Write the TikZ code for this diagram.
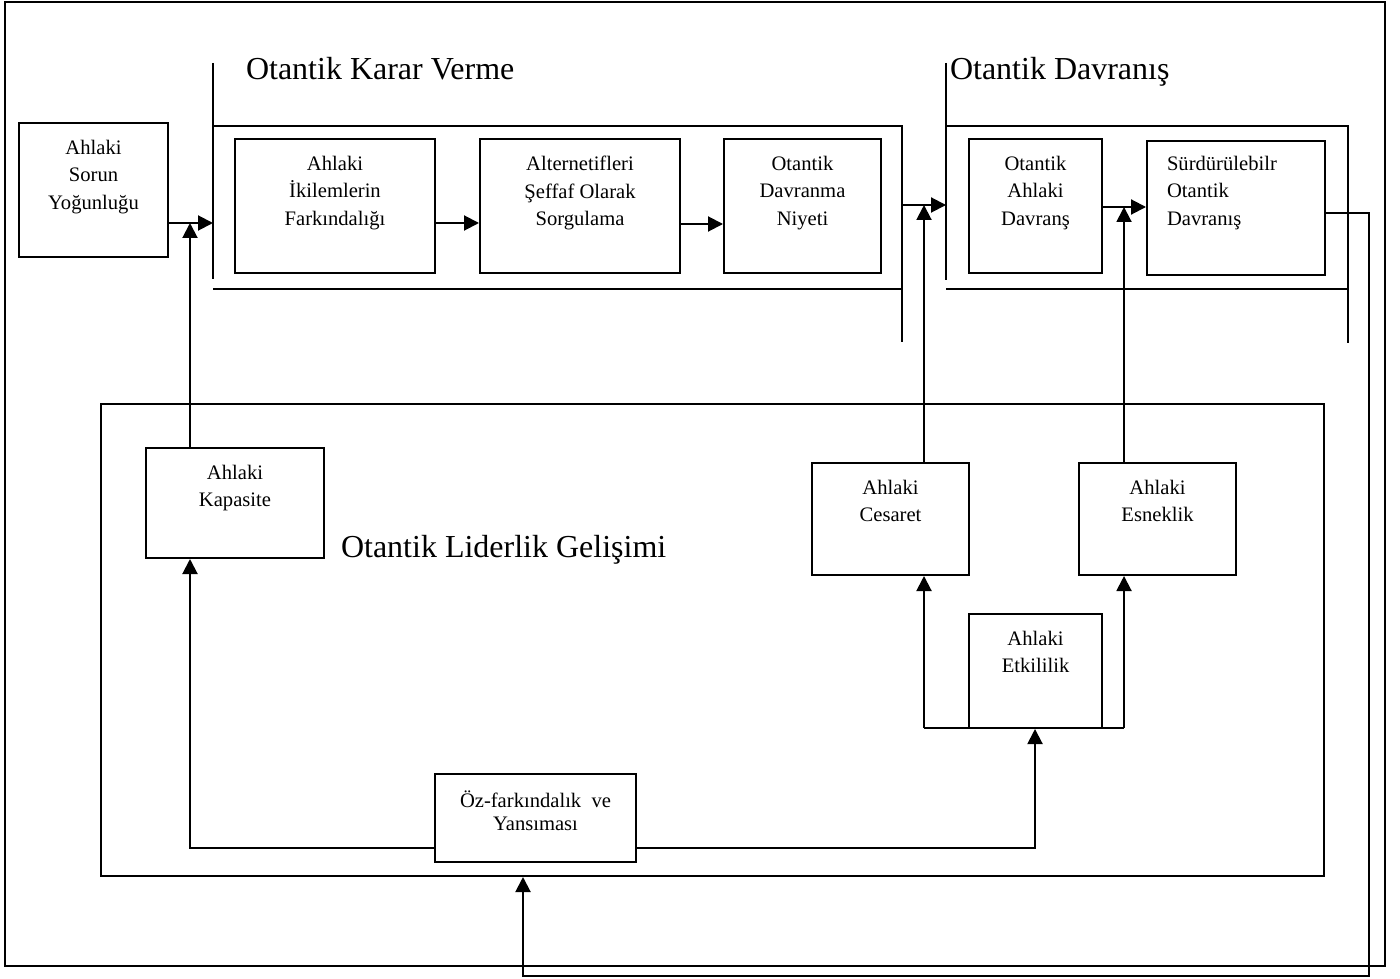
\documentclass[tikz,border=0pt]{standalone}
\usepackage{fontspec}
\setmainfont{Liberation Serif}
\usetikzlibrary{arrows.meta,fit}
\begin{document}
\begin{tikzpicture}[x=0.5pt,y=-0.5pt,line width=1pt,
  box/.style={draw,inner sep=0pt},
  btxt/.style={font=\fontsize{10.3}{13.75}\selectfont,align=center,inner sep=0pt,anchor=north},
  ttl/.style={font=\fontsize{16}{19}\selectfont,inner sep=0pt,anchor=base west},
  arr/.style={-{Triangle[length=7.5pt,width=7.5pt]}}]
\useasboundingbox (0,0) rectangle (1400,978);
% outer frame
\draw (5,2) rectangle (1385,966);
% titles
\node[ttl] (t1) at (245,80) {Otantik Karar Verme};
\node[ttl] (t2) at (949,80) {Otantik Davranış};
\node[ttl] (t3) at (340,557) {Otantik Liderlik Gelişimi};
% brackets
\draw (213,63) -- (213,279);
\draw (213,126) -- (902,126) -- (902,342);
\draw (213,289) -- (902,289);
\draw (946,63) -- (946,280);
\draw (946,126) -- (1348,126) -- (1348,343);
\draw (946,289) -- (1348,289);
% boxes
\node[box,fit={(19,123) (168,257)}] (sorun) {};
\node[box,fit={(235,139) (435,273)}] (ikilem) {};
\node[box,fit={(480,139) (680,273)}] (altern) {};
\node[box,fit={(724,139) (881,273)}] (niyet) {};
\node[box,fit={(969,139) (1102,273)}] (ahlakdav) {};
\node[box,fit={(1147,141) (1325,275)}] (surdur) {};
\node[box,fit={(101,404) (1324,876)}] (lider) {};
\node[box,fit={(146,448) (324,558)}] (kapasite) {};
\node[box,fit={(812,463) (969,575)}] (cesaret) {};
\node[box,fit={(1079,463) (1236,575)}] (esnek) {};
\node[box,fit={(969,614) (1102,728)}] (etkili) {};
\node[box,fit={(435,774) (636,862)}] (oz) {};
% box texts
\node[btxt] (sorunT) at ([yshift=-8.5pt]sorun.north) {Ahlaki\\Sorun\\Yoğunluğu};
\node[btxt] (ikilemT) at ([yshift=-8.5pt]ikilem.north) {Ahlaki\\İkilemlerin\\Farkındalığı};
\node[btxt] (alternT) at ([yshift=-8.5pt]altern.north) {Alternetifleri\\Şeffaf Olarak\\Sorgulama};
\node[btxt] (niyetT) at ([yshift=-8.5pt]niyet.north) {Otantik\\Davranma\\Niyeti};
\node[btxt] (ahlakdavT) at ([yshift=-8.5pt]ahlakdav.north) {Otantik\\Ahlaki\\Davranş};
\node[btxt,align=left,anchor=north west] (surdurT) at ([xshift=10pt,yshift=-7.5pt]surdur.north west) {Sürdürülebilr\\Otantik\\Davranış};
\node[btxt] (kapasiteT) at ([yshift=-8.5pt]kapasite.north) {Ahlaki\\Kapasite};
\node[btxt] (cesaretT) at ([yshift=-8.5pt]cesaret.north) {Ahlaki\\Cesaret};
\node[btxt] (esnekT) at ([yshift=-8.5pt]esnek.north) {Ahlaki\\Esneklik};
\node[btxt] (etkiliT) at ([yshift=-8.5pt]etkili.north) {Ahlaki\\Etkililik};
\node[btxt,font=\fontsize{10.3}{11.5}\selectfont] (ozT) at ([yshift=-8.5pt]oz.north) {Öz-farkındalık~~ve\\Yansıması};
% coordinates
\coordinate (kin) at (213,223);
\coordinate (kup) at (190,223);
\coordinate (kout) at (902,205);
\coordinate (dvin) at (946,205);
\coordinate (cup) at (924,205);
\coordinate (esup) at (1124,207);
\coordinate (fbA) at (1369,213);
\coordinate (fbB) at (1369,976);
\coordinate (fbC) at (523,976);
\coordinate (ozL) at (190,848);
\coordinate (ozR) at (1035,848);
\coordinate (eL) at (924,728);
\coordinate (eR) at (1124,728);
\coordinate (nl) at (0,224);
% connectors
\draw[arr] (kin -| sorun.east) -- (kin);
\draw[arr] (kup |- kapasite.north) -- (kup);
\draw[arr] (ikilem.east |- kin) -- (altern.west |- kin);
\draw[arr] (altern.east |- nl) -- (niyet.west |- nl);
\draw[arr] (kout) -- (dvin);
\draw[arr] (cup |- cesaret.north) -- (cup);
\draw[arr] (ahlakdav.east |- esup) -- (surdur.west |- esup);
\draw[arr] (esup |- esnek.north) -- (esup);
\draw[arr] (fbA -| surdur.east) -- (fbA) -- (fbB) -- (fbC) -- (fbC |- lider.south);
\draw[arr] (ozL -| oz.west) -- (ozL) -- (ozL |- kapasite.south);
\draw[arr] (ozR -| oz.east) -- (ozR) -- (ozR |- etkili.south);
\draw (eL) -- (eR);
\draw[arr] (eL) -- (eL |- cesaret.south);
\draw[arr] (eR) -- (eR |- esnek.south);
\end{tikzpicture}
\end{document}
